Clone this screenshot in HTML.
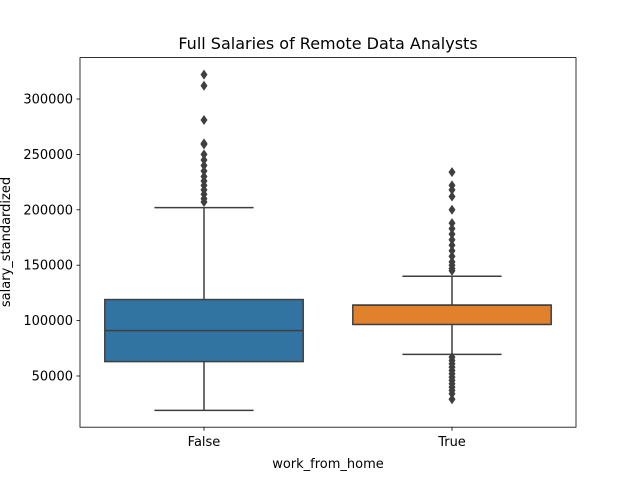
<!DOCTYPE html>
<html><head><meta charset="utf-8"><style>
body{margin:0;background:#fff;font-family:"Liberation Sans","DejaVu Sans",sans-serif}
svg text{font-family:"DejaVu Sans","Liberation Sans",sans-serif}
</style></head><body>
<svg id="c" width="640" height="480" xmlns="http://www.w3.org/2000/svg"></svg>
<script>
const categories=["False","True"];
const colors=["#3274a1","#e1812c"];
const whiskerLow=[19000,69500];
const q1=[63000,96500];
const medians=[91000,114000];
const q3=[119000,114000];
const whiskerHigh=[202000,140000];
const outliersFalse=[322000,312000,281000,260000,259000,250000,245000,240000,235000,230000,226000,222000,218000,214000,210000,207000];
const outliersTrue=[234000,222000,218000,212000,200000,188000,183000,178000,173000,168000,163000,158000,153000,150000,147000,145000,67000,64000,61000,58000,55000,52000,49000,46000,43000,40000,37000,34000,29000];
const outliers=[outliersFalse,outliersTrue];
const yTicks=[50000,100000,150000,200000,250000,300000];

const svg=document.getElementById('c');const NS='http://www.w3.org/2000/svg';
const L=80,R=576,T=57.6,B=427.2;
const y=v=>431.4-v*0.001108;
const x=i=>L+(R-L)*(i+0.5)/categories.length;
const bw=(R-L)/categories.length*0.8;
function el(t,a,p){const e=document.createElementNS(NS,t);for(const k in a)e.setAttribute(k,a[k]);(p||svg).appendChild(e);return e;}
const dark="#3f3f3f";
categories.forEach((c,i)=>{
 const g=el('g',{});
 
 
 const cx=x(i);
 el('line',{x1:cx,x2:cx,y1:y(whiskerLow[i]),y2:y(q1[i]),stroke:dark,'stroke-width':1.5},g);
 el('line',{x1:cx,x2:cx,y1:y(q3[i]),y2:y(whiskerHigh[i]),stroke:dark,'stroke-width':1.5},g);
 el('line',{x1:cx-bw/4,x2:cx+bw/4,y1:y(whiskerLow[i]),y2:y(whiskerLow[i]),stroke:dark,'stroke-width':1.5},g);
 el('line',{x1:cx-bw/4,x2:cx+bw/4,y1:y(whiskerHigh[i]),y2:y(whiskerHigh[i]),stroke:dark,'stroke-width':1.5},g);
 el('rect',{x:cx-bw/2,y:y(q3[i]),width:bw,height:Math.max(y(q1[i])-y(q3[i]),0),fill:colors[i],stroke:dark,'stroke-width':1.5},g);
 el('line',{x1:cx-bw/2,x2:cx+bw/2,y1:y(medians[i]),y2:y(medians[i]),stroke:dark,'stroke-width':1.5},g);
 outliers[i].forEach(v=>{const yy=y(v);
  const d=el('polygon',{points:`${cx},${yy-5} ${cx+3.5},${yy} ${cx},${yy+5} ${cx-3.5},${yy}`,fill:dark},g);
  });
 const t=el('text',{x:cx,y:B+19,'font-size':13,'text-anchor':'middle',fill:'#000'});t.textContent=c;
 
 el('line',{x1:cx,x2:cx,y1:B,y2:B+3.5,stroke:'#000','stroke-width':0.8});
});
yTicks.forEach(v=>{const yy=y(v);
 el('line',{x1:L-3.5,x2:L,y1:yy,y2:yy,stroke:'#000','stroke-width':0.8});
 const t=el('text',{x:L-7,y:yy+4.5,'font-size':13,'text-anchor':'end',fill:'#000'});t.textContent=v;
 });
const fr=el('rect',{x:L,y:T,width:R-L,height:B-T,fill:'none',stroke:'#000','stroke-width':0.8});

let t=el('text',{x:328,y:49,'font-size':16,'text-anchor':'middle'});t.textContent='Full Salaries of Remote Data Analysts';

t=el('text',{x:328,y:468,'font-size':13,'text-anchor':'middle'});t.textContent='work_from_home';

t=el('text',{x:0,y:0,'font-size':13,'text-anchor':'middle',transform:'translate(10,242) rotate(-90)'});t.textContent='salary_standardized';

</script>
</body></html>
